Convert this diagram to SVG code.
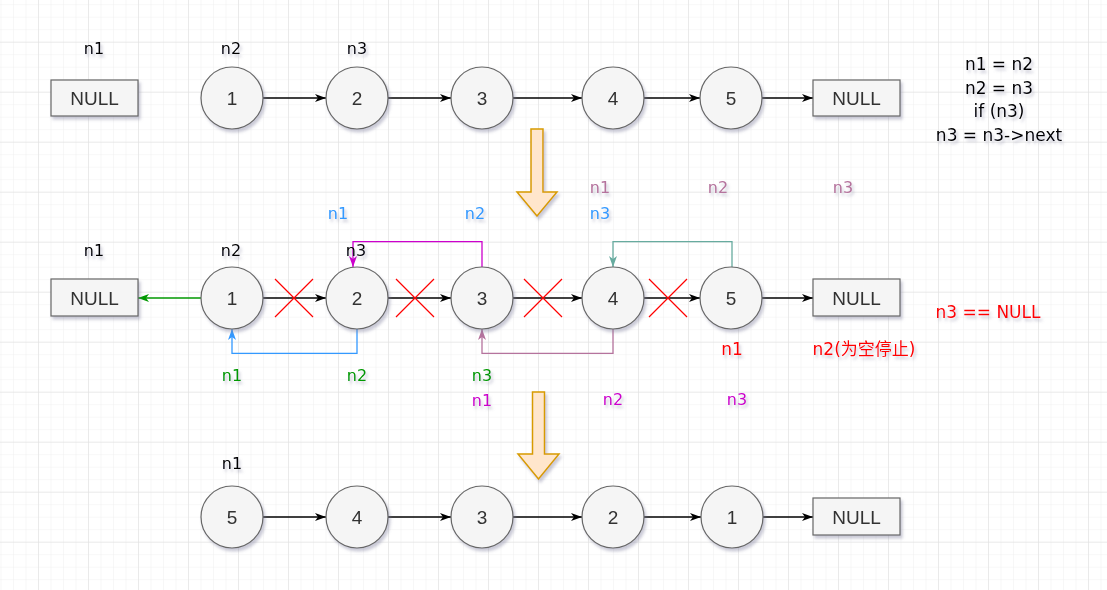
<svg xmlns="http://www.w3.org/2000/svg" width="1107" height="590" viewBox="0 0 1107 590">
<style>
.nd{fill:#f5f5f5;stroke:#666666;stroke-width:1.2}
.nt{font-family:"Liberation Sans",Arial,sans-serif;font-size:19px;fill:#333333;text-anchor:middle;dominant-baseline:central}
.lb{font-family:"DejaVu Sans","Liberation Sans",sans-serif;font-size:16px;text-anchor:middle;dominant-baseline:central}
.rd{font-family:"DejaVu Sans","Noto Sans CJK SC",sans-serif;font-size:17px;fill:#ff0000;text-anchor:middle;dominant-baseline:central}
.ln{fill:none;stroke-width:1.3}
.x{stroke:#ff0000;stroke-width:1.2}
.ba{fill:#ffe6cc;stroke:#d79b00;stroke-width:1.5}
</style>
<defs>
<pattern id="gmin" width="12.5" height="12.5" patternUnits="userSpaceOnUse" x="38" y="41.7">
<path d="M0,0 H12.5 M0,0 V12.5" fill="none" stroke="#f0f0f0" stroke-width="1"/>
</pattern>
<pattern id="gmaj" width="50" height="50" patternUnits="userSpaceOnUse" x="38" y="41.7">
<path d="M0,0 H50 M0,0 V50" fill="none" stroke="#dedede" stroke-width="1"/>
</pattern>
<filter id="sh" x="-30%" y="-30%" width="160%" height="160%">
<feDropShadow dx="2" dy="3" stdDeviation="1.5" flood-color="#7a7a9a" flood-opacity="0.4"/>
</filter>
<marker id="mk" viewBox="0 0 11 8" refX="11" refY="4" markerWidth="11" markerHeight="8" markerUnits="userSpaceOnUse" orient="auto"><path d="M0,0 L11,4 L0,8 L3,4 z" fill="#000000"/></marker>
<marker id="mg" viewBox="0 0 11 8" refX="11" refY="4" markerWidth="11" markerHeight="8" markerUnits="userSpaceOnUse" orient="auto"><path d="M0,0 L11,4 L0,8 L3,4 z" fill="#009900"/></marker>
<marker id="mb" viewBox="0 0 11 8" refX="11" refY="4" markerWidth="11" markerHeight="8" markerUnits="userSpaceOnUse" orient="auto"><path d="M0,0 L11,4 L0,8 L3,4 z" fill="#3399ff"/></marker>
<marker id="mm" viewBox="0 0 11 8" refX="11" refY="4" markerWidth="11" markerHeight="8" markerUnits="userSpaceOnUse" orient="auto"><path d="M0,0 L11,4 L0,8 L3,4 z" fill="#cc00cc"/></marker>
<marker id="mv" viewBox="0 0 11 8" refX="11" refY="4" markerWidth="11" markerHeight="8" markerUnits="userSpaceOnUse" orient="auto"><path d="M0,0 L11,4 L0,8 L3,4 z" fill="#b5739d"/></marker>
<marker id="mt" viewBox="0 0 11 8" refX="11" refY="4" markerWidth="11" markerHeight="8" markerUnits="userSpaceOnUse" orient="auto"><path d="M0,0 L11,4 L0,8 L3,4 z" fill="#67ab9f"/></marker>
</defs>
<rect width="1107" height="590" fill="#ffffff"/>
<rect width="1107" height="590" fill="url(#gmin)"/>
<rect width="1107" height="590" fill="url(#gmaj)"/>

<g id="connectors">
<g stroke="#000000" class="ln" marker-end="url(#mk)">
<path d="M263,98 H326"/><path d="M388,98 H451"/><path d="M513,98 H582"/><path d="M644,98 H700"/><path d="M762,98 H813"/>
<path d="M263,298 H326"/><path d="M388,298 H451"/><path d="M513,298 H582"/><path d="M644,298 H700"/><path d="M762,298 H813"/>
<path d="M263,517 H326"/><path d="M388,517 H451"/><path d="M513,517 H582"/><path d="M644,517 H701"/><path d="M763,517 H813"/>
</g>
<path d="M201,298 H138" class="ln" stroke="#009900" marker-end="url(#mg)"/>
<path d="M357,329 V353.3 H232 V329" class="ln" stroke="#3399ff" marker-end="url(#mb)"/>
<path d="M482,267 V241.7 H353 V267" class="ln" stroke="#cc00cc" marker-end="url(#mm)"/>
<path d="M613,329 V353.3 H482 V329" class="ln" stroke="#b5739d" marker-end="url(#mv)"/>
<path d="M732,267 V241.7 H613 V267" class="ln" stroke="#67ab9f" marker-end="url(#mt)"/>
<g id="crosses">
<path class="x" d="M275,279 L313,317 M313,279 L275,317"/>
<path class="x" d="M396,279 L434,317 M434,279 L396,317"/>
<path class="x" d="M524,279 L562,317 M562,279 L524,317"/>
<path class="x" d="M649,279 L687,317 M687,279 L649,317"/>
</g>
</g>

<g id="row1">
<g id="r1-null-left" filter="url(#sh)"><rect class="nd" x="51" y="80" width="87" height="36"/><text class="nt" x="94.5" y="98">NULL</text></g>
<g id="r1-n1" filter="url(#sh)"><circle class="nd" cx="232" cy="98" r="31"/><text class="nt" x="232" y="98">1</text></g>
<g id="r1-n2" filter="url(#sh)"><circle class="nd" cx="357" cy="98" r="31"/><text class="nt" x="357" y="98">2</text></g>
<g id="r1-n3" filter="url(#sh)"><circle class="nd" cx="482" cy="98" r="31"/><text class="nt" x="482" y="98">3</text></g>
<g id="r1-n4" filter="url(#sh)"><circle class="nd" cx="613" cy="98" r="31"/><text class="nt" x="613" y="98">4</text></g>
<g id="r1-n5" filter="url(#sh)"><circle class="nd" cx="731" cy="98" r="31"/><text class="nt" x="731" y="98">5</text></g>
<g id="r1-null-right" filter="url(#sh)"><rect class="nd" x="813" y="80" width="87" height="36"/><text class="nt" x="856.5" y="98">NULL</text></g>
</g>

<g id="row2">
<g id="r2-null-left" filter="url(#sh)"><rect class="nd" x="51" y="279" width="87" height="37"/><text class="nt" x="94.5" y="298">NULL</text></g>
<g id="r2-n1" filter="url(#sh)"><circle class="nd" cx="232" cy="298" r="31"/><text class="nt" x="232" y="298">1</text></g>
<g id="r2-n2" filter="url(#sh)"><circle class="nd" cx="357" cy="298" r="31"/><text class="nt" x="357" y="298">2</text></g>
<g id="r2-n3" filter="url(#sh)"><circle class="nd" cx="482" cy="298" r="31"/><text class="nt" x="482" y="298">3</text></g>
<g id="r2-n4" filter="url(#sh)"><circle class="nd" cx="613" cy="298" r="31"/><text class="nt" x="613" y="298">4</text></g>
<g id="r2-n5" filter="url(#sh)"><circle class="nd" cx="731" cy="298" r="31"/><text class="nt" x="731" y="298">5</text></g>
<g id="r2-null-right" filter="url(#sh)"><rect class="nd" x="813" y="279" width="87" height="37"/><text class="nt" x="856.5" y="298">NULL</text></g>
</g>

<g id="row3">
<g id="r3-n5" filter="url(#sh)"><circle class="nd" cx="232" cy="517" r="31"/><text class="nt" x="232" y="517">5</text></g>
<g id="r3-n4" filter="url(#sh)"><circle class="nd" cx="357" cy="517" r="31"/><text class="nt" x="357" y="517">4</text></g>
<g id="r3-n3" filter="url(#sh)"><circle class="nd" cx="482" cy="517" r="31"/><text class="nt" x="482" y="517">3</text></g>
<g id="r3-n2" filter="url(#sh)"><circle class="nd" cx="613" cy="517" r="31"/><text class="nt" x="613" y="517">2</text></g>
<g id="r3-n1" filter="url(#sh)"><circle class="nd" cx="732" cy="517" r="31"/><text class="nt" x="732" y="517">1</text></g>
<g id="r3-null" filter="url(#sh)"><rect class="nd" x="813" y="498" width="87" height="37"/><text class="nt" x="856.5" y="517">NULL</text></g>
</g>

<g id="step-arrows" filter="url(#sh)">
<polygon class="ba" points="531,129 543,129 543,192 557,192 537,216 517,192 531,192"/>
<polygon class="ba" points="532.5,392 544.5,392 544.5,454 559,454 538.5,479 518,454 532.5,454"/>
</g>

<g id="labels" filter="url(#sh)">
<g fill="#000000" class="lb">
<text x="94" y="48">n1</text><text x="231" y="48">n2</text><text x="357" y="48">n3</text>
<text x="94" y="250">n1</text><text x="231" y="250">n2</text><text x="356" y="250">n3</text>
<text x="232" y="463">n1</text>
</g>
<g fill="#000000" class="lb" style="font-size:17px">
<text x="999" y="64">n1 = n2</text>
<text x="999" y="87.5">n2 = n3</text>
<text x="999" y="111">if (n3)</text>
<text x="999" y="134.5">n3 = n3-&gt;next</text>
</g>
<g fill="#b5739d" class="lb">
<text x="600" y="187">n1</text><text x="718" y="187">n2</text><text x="843" y="187">n3</text>
</g>
<g fill="#3399ff" class="lb">
<text x="338" y="213">n1</text><text x="475" y="213">n2</text><text x="600" y="213">n3</text>
</g>
<g fill="#009900" class="lb">
<text x="232" y="375">n1</text><text x="357" y="375">n2</text><text x="482" y="375">n3</text>
</g>
<g fill="#cc00cc" class="lb">
<text x="482" y="400">n1</text><text x="613" y="399">n2</text><text x="737" y="399">n3</text>
</g>
<g class="rd">
<text x="988" y="312">n3 == NULL</text>
<text x="732" y="349">n1</text>
<text x="864" y="349">n2(为空停止)</text>
</g>
</g>
</svg>
